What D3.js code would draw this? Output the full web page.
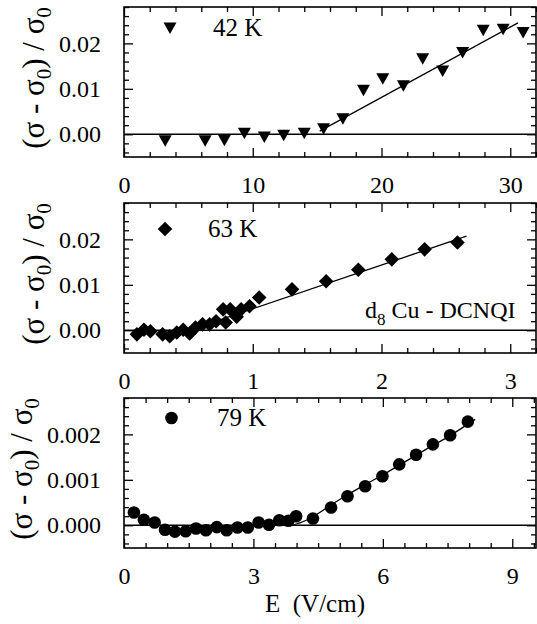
<!DOCTYPE html>
<html>
<head>
<meta charset="utf-8">
<script src="https://cdn.jsdelivr.net/npm/d3@7"></script>
<style>
  body { margin: 0; background: #fff; }
  svg text { font-family: "Liberation Serif", "Times New Roman", Times, serif; fill: #000; }
</style>
</head>
<body>
<div id="chart"></div>
<script>
/* DATA */
// 42 K : E (V/cm), (sigma - sigma0)/sigma0
const e42 = [3.2, 6.3, 7.8, 9.35, 10.9, 12.4, 14.0, 15.5, 17.0, 18.6, 20.1, 21.7, 23.2, 24.75, 26.3, 27.9, 29.45, 31.0];
const v42 = [-0.0014, -0.0014, -0.0013, 0.0002, -0.0006, -0.0002, 0.0002, 0.0012, 0.0034, 0.0097, 0.0122, 0.0107, 0.0166, 0.0139, 0.018, 0.0229, 0.0231, 0.0224];
const fit42E = [15.2, 30.6];
const fit42V = [0.0007, 0.0245];

// 63 K
const e63 = [0.10, 0.155, 0.205, 0.30, 0.355, 0.41, 0.46, 0.51, 0.555, 0.61, 0.665, 0.715, 0.77, 0.79, 0.825, 0.875, 0.91, 0.975, 1.05, 1.305, 1.57, 1.82, 2.08, 2.335, 2.59];
const v63 = [-0.0009, 0.0001, -0.0002, -0.0009, -0.0013, -0.0005, 0.0001, -0.0007, 0.0006, 0.0013, 0.0013, 0.002, 0.0046, 0.0017, 0.0046, 0.003, 0.0046, 0.0053, 0.0072, 0.009, 0.0108, 0.0133, 0.0156, 0.0178, 0.0193];
const fit63E = [0.55, 2.66];
const fit63V = [0.0004, 0.0207];

// 79 K
const e79 = [0.23, 0.46, 0.71, 0.95, 1.18, 1.43, 1.67, 1.9, 2.15, 2.38, 2.63, 2.87, 3.12, 3.36, 3.6, 3.81, 3.99, 4.38, 4.8, 5.18, 5.59, 5.99, 6.38, 6.77, 7.16, 7.56, 7.97];
const v79 = [0.00028, 0.00012, 0.00006, -0.0001, -0.00014, -0.00013, -0.00007, -0.00011, -0.00004, -0.00011, -0.00005, -0.00005, 0.00006, 0.00001, 0.00011, 0.0001, 0.0002, 0.00015, 0.00039, 0.00064, 0.00086, 0.00108, 0.00134, 0.00155, 0.00178, 0.00198, 0.00228];
const fit79E = [3.9, 4.2, 4.5, 4.8, 5.2, 5.6, 6.0, 6.5, 7.0, 7.5, 8.14];
const fit79V = [0, 0.0001, 0.00026, 0.00045, 0.00068, 0.0009, 0.00111, 0.00139, 0.00167, 0.00194, 0.00233];

// axes
const xMax = [32, 3.2, 9.55];
const xMajor = [[0, 10, 20, 30], [0, 1, 2, 3], [0, 3, 6, 9]];
const xMinorStep = [2, 0.2, 0.5];
const yDomain = [[-0.005, 0.028], [-0.005, 0.028], [-0.0005, 0.0028]];
const yMajor = [[0, 0.01, 0.02], [0, 0.01, 0.02], [0, 0.001, 0.002]];
const yMinorStep = [0.002, 0.002, 0.0002];
const yFormat = [".2f", ".2f", ".3f"];
const labels = ["42 K", "63 K", "79 K"];
const symbols = ["triangleDown", "diamond", "circle"];

/* LAYOUT */
const width = 537, height = 624;
const left = 124, right = 536;
const tops = [7, 203, 398];
const ph = 150;
const serif = '"Liberation Serif", "Times New Roman", Times, serif';

const svg = d3.select("#chart").append("svg")
  .attr("width", width)
  .attr("height", height)
  .attr("font-family", serif);

const panels = [
  { e: e42, v: v42, fe: fit42E, fv: fit42V },
  { e: e63, v: v63, fe: fit63E, fv: fit63V },
  { e: e79, v: v79, fe: fit79E, fv: fit79V }
];

function steps(lo, hi, step) {
  const out = [];
  const n = Math.floor((hi - lo) / step + 1e-6);
  for (let i = 0; i <= n; i++) out.push(+(lo + i * step).toFixed(6));
  return out;
}

function marker(g, type, x, y) {
  if (type === "circle") {
    g.append("circle").attr("cx", x).attr("cy", y).attr("r", 6.3);
  } else if (type === "diamond") {
    const s = 7.3;
    g.append("path").attr("d", `M${x},${y - s}L${x + s},${y}L${x},${y + s}L${x - s},${y}Z`);
  } else {
    g.append("path").attr("d", `M${x - 6.5},${y - 5.5}L${x + 6.5},${y - 5.5}L${x},${y + 6}Z`);
  }
}

panels.forEach((p, i) => {
  const top = tops[i], bottom = top + ph;
  const x = d3.scaleLinear().domain([0, xMax[i]]).range([left, right]);
  const y = d3.scaleLinear().domain(yDomain[i]).range([bottom, top]);
  const g = svg.append("g");

  const xMinor = steps(0, xMax[i], xMinorStep[i]).filter(d => !xMajor[i].some(m => Math.abs(m - d) < 1e-6));
  const yMinor = steps(Math.ceil(yDomain[i][0] / yMinorStep[i]) * yMinorStep[i], yDomain[i][1], yMinorStep[i])
    .filter(d => !yMajor[i].some(m => Math.abs(m - d) < 1e-9));

  // ticks on all four sides, pointing inward
  const ax = [
    [d3.axisBottom(x).tickValues(xMajor[i]).tickSize(-9).tickPadding(19).tickFormat(d3.format("d")), `translate(0,${bottom})`, true],
    [d3.axisBottom(x).tickValues(xMinor).tickSize(-5).tickFormat(""), `translate(0,${bottom})`],
    [d3.axisTop(x).tickValues(xMajor[i]).tickSize(-9).tickFormat(""), `translate(0,${top})`],
    [d3.axisTop(x).tickValues(xMinor).tickSize(-5).tickFormat(""), `translate(0,${top})`],
    [d3.axisLeft(y).tickValues(yMajor[i]).tickSize(-9).tickPadding(23).tickFormat(d3.format(yFormat[i])), `translate(${left},0)`, true],
    [d3.axisLeft(y).tickValues(yMinor).tickSize(-5).tickFormat(""), `translate(${left},0)`],
    [d3.axisRight(y).tickValues(yMajor[i]).tickSize(-9).tickFormat(""), `translate(${right},0)`],
    [d3.axisRight(y).tickValues(yMinor).tickSize(-5).tickFormat(""), `translate(${right},0)`]
  ];
  ax.forEach(([a, tr, lab]) => {
    const ag = g.append("g").attr("transform", tr).call(a).attr("font-family", serif);
    ag.select(".domain").remove();
    ag.selectAll("line").attr("stroke", "#000").attr("stroke-width", 1.3);
    if (lab) ag.selectAll("text").attr("font-size", 24).attr("font-family", serif);
  });

  // frame
  g.append("rect")
    .attr("x", left).attr("y", top)
    .attr("width", right - left).attr("height", ph)
    .attr("fill", "none").attr("stroke", "#000").attr("stroke-width", 1.6);

  // zero line
  g.append("line")
    .attr("x1", left).attr("x2", right)
    .attr("y1", y(0)).attr("y2", y(0))
    .attr("stroke", "#000").attr("stroke-width", 1.3);

  // fit
  const fit = p.fe.map((d, j) => [d, p.fv[j]]);
  g.append("path")
    .datum(fit)
    .attr("fill", "none").attr("stroke", "#000").attr("stroke-width", 1.3)
    .attr("d", d3.line().x(d => x(d[0])).y(d => y(d[1])).curve(d3.curveMonotoneX));

  // points
  const mg = g.append("g").attr("fill", "#000");
  p.e.forEach((d, j) => marker(mg, symbols[i], x(d), y(p.v[j])));

  // legend
  const lx = [170, 165, 171.5][i], ly = [28, 229, 418][i];
  marker(mg, symbols[i], lx, ly);
  g.append("text")
    .attr("x", [213, 208, 217][i]).attr("y", ly + 8)
    .attr("font-size", 25)
    .text(labels[i]);

  // y label
  const yl = g.append("text")
    .attr("transform", `translate(${[44, 44, 32][i]},${top + ph / 2 - 4}) rotate(-90)`)
    .attr("text-anchor", "middle")
    .attr("font-size", 31);
  yl.append("tspan").text("(σ - σ");
  yl.append("tspan").attr("font-size", 21).attr("dy", 7).text("0");
  yl.append("tspan").attr("dy", -7).text(") / σ");
  yl.append("tspan").attr("font-size", 21).attr("dy", 7).text("0");
});

// sample label in middle panel
const sl = svg.append("text").attr("x", 365).attr("y", 318).attr("font-size", 24);
sl.append("tspan").text("d");
sl.append("tspan").attr("font-size", 17).attr("dy", 7).text("8");
sl.append("tspan").attr("dy", -7).text(" Cu - DCNQI");

// x axis title
svg.append("text")
  .attr("x", 315).attr("y", 612)
  .attr("text-anchor", "middle")
  .attr("font-size", 25)
  .attr("xml:space", "preserve")
  .text("E  (V/cm)");
</script>
</body>
</html>
